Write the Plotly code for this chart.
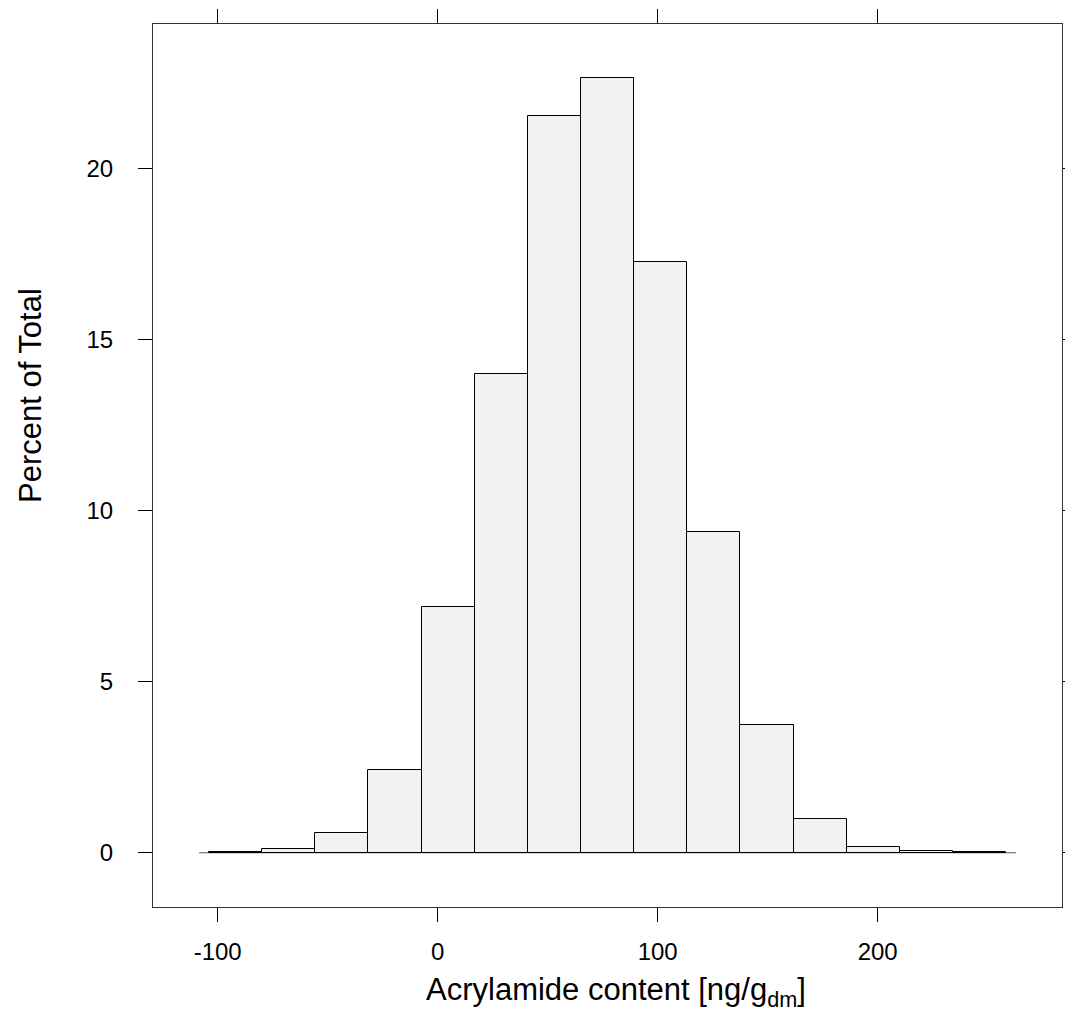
import plotly.graph_objects as go

# Histogram bin edges (ng/g dm) and percent of total per bin
bin_edges = [-103.9, -79.75, -55.6, -31.45, -7.3, 16.85, 41.0, 65.15, 89.3,
             113.45, 137.6, 161.75, 185.9, 210.05, 234.2, 258.35]
percent = [0.02, 0.12, 0.59, 2.41, 7.19, 13.99, 21.53, 22.63, 17.26,
           9.37, 3.73, 0.98, 0.16, 0.05, 0.01]
x_ticks = [-100, 0, 100, 200]
y_ticks = [0, 5, 10, 15, 20]

centers = [(a + b) / 2 for a, b in zip(bin_edges[:-1], bin_edges[1:])]
widths = [b - a for a, b in zip(bin_edges[:-1], bin_edges[1:])]

FONT = "Arial, Liberation Sans, sans-serif"

fig = go.Figure()
fig.add_trace(go.Bar(
    x=centers, y=percent, width=widths,
    marker=dict(color="#F2F2F2", line=dict(color="black", width=1)),
    showlegend=False, hoverinfo="x+y",
))

span = bin_edges[-1] - bin_edges[0]
fig.add_shape(type="line", xref="x", yref="y",
              x0=bin_edges[0] - 0.0125 * span, x1=bin_edges[-1] + 0.0125 * span,
              y0=0, y1=0, line=dict(color="#555555", width=1), layer="below")

fig.update_layout(
    width=1065, height=1034,
    margin=dict(l=153, r=3, t=24, b=127, autoexpand=False),
    plot_bgcolor="white", paper_bgcolor="white",
    bargap=0,
    font=dict(family=FONT, size=24, color="black"),
    xaxis=dict(
        range=[-129.4, 283.8], tickvals=x_ticks, ticktext=[str(v) for v in x_ticks],
        ticks="outside", ticklen=14, tickwidth=1, tickcolor="black",
        showline=True, linecolor="#333333", linewidth=1, mirror="allticks",
        showgrid=False, zeroline=False, ticklabelstandoff=9,
        tickfont=dict(size=24, family=FONT, color="black"),
    ),
    yaxis=dict(
        range=[-1.585, 24.22], tickvals=y_ticks, ticktext=[str(v) for v in y_ticks],
        ticks="outside", ticklen=14, tickwidth=1, tickcolor="black",
        showline=True, linecolor="#333333", linewidth=1, mirror="allticks",
        showgrid=False, zeroline=False, ticklabelstandoff=20,
        tickfont=dict(size=24, family=FONT, color="black"),
    ),
    annotations=[
        dict(text="Acrylamide content [ng/g<sub>dm</sub>]", xref="paper", yref="paper",
             x=(615.5 - 153) / (1062 - 153), y=-(992 - 907) / (907 - 24),
             xanchor="center", yanchor="middle", showarrow=False,
             font=dict(size=31, family=FONT, color="black")),
        dict(text="Percent of Total", xref="paper", yref="paper",
             x=-(153 - 30) / (1062 - 153), y=(907 - 396) / (907 - 24),
             xanchor="center", yanchor="middle", textangle=-90, showarrow=False,
             font=dict(size=31, family=FONT, color="black")),
    ],
)

fig.write_html("out.html")
